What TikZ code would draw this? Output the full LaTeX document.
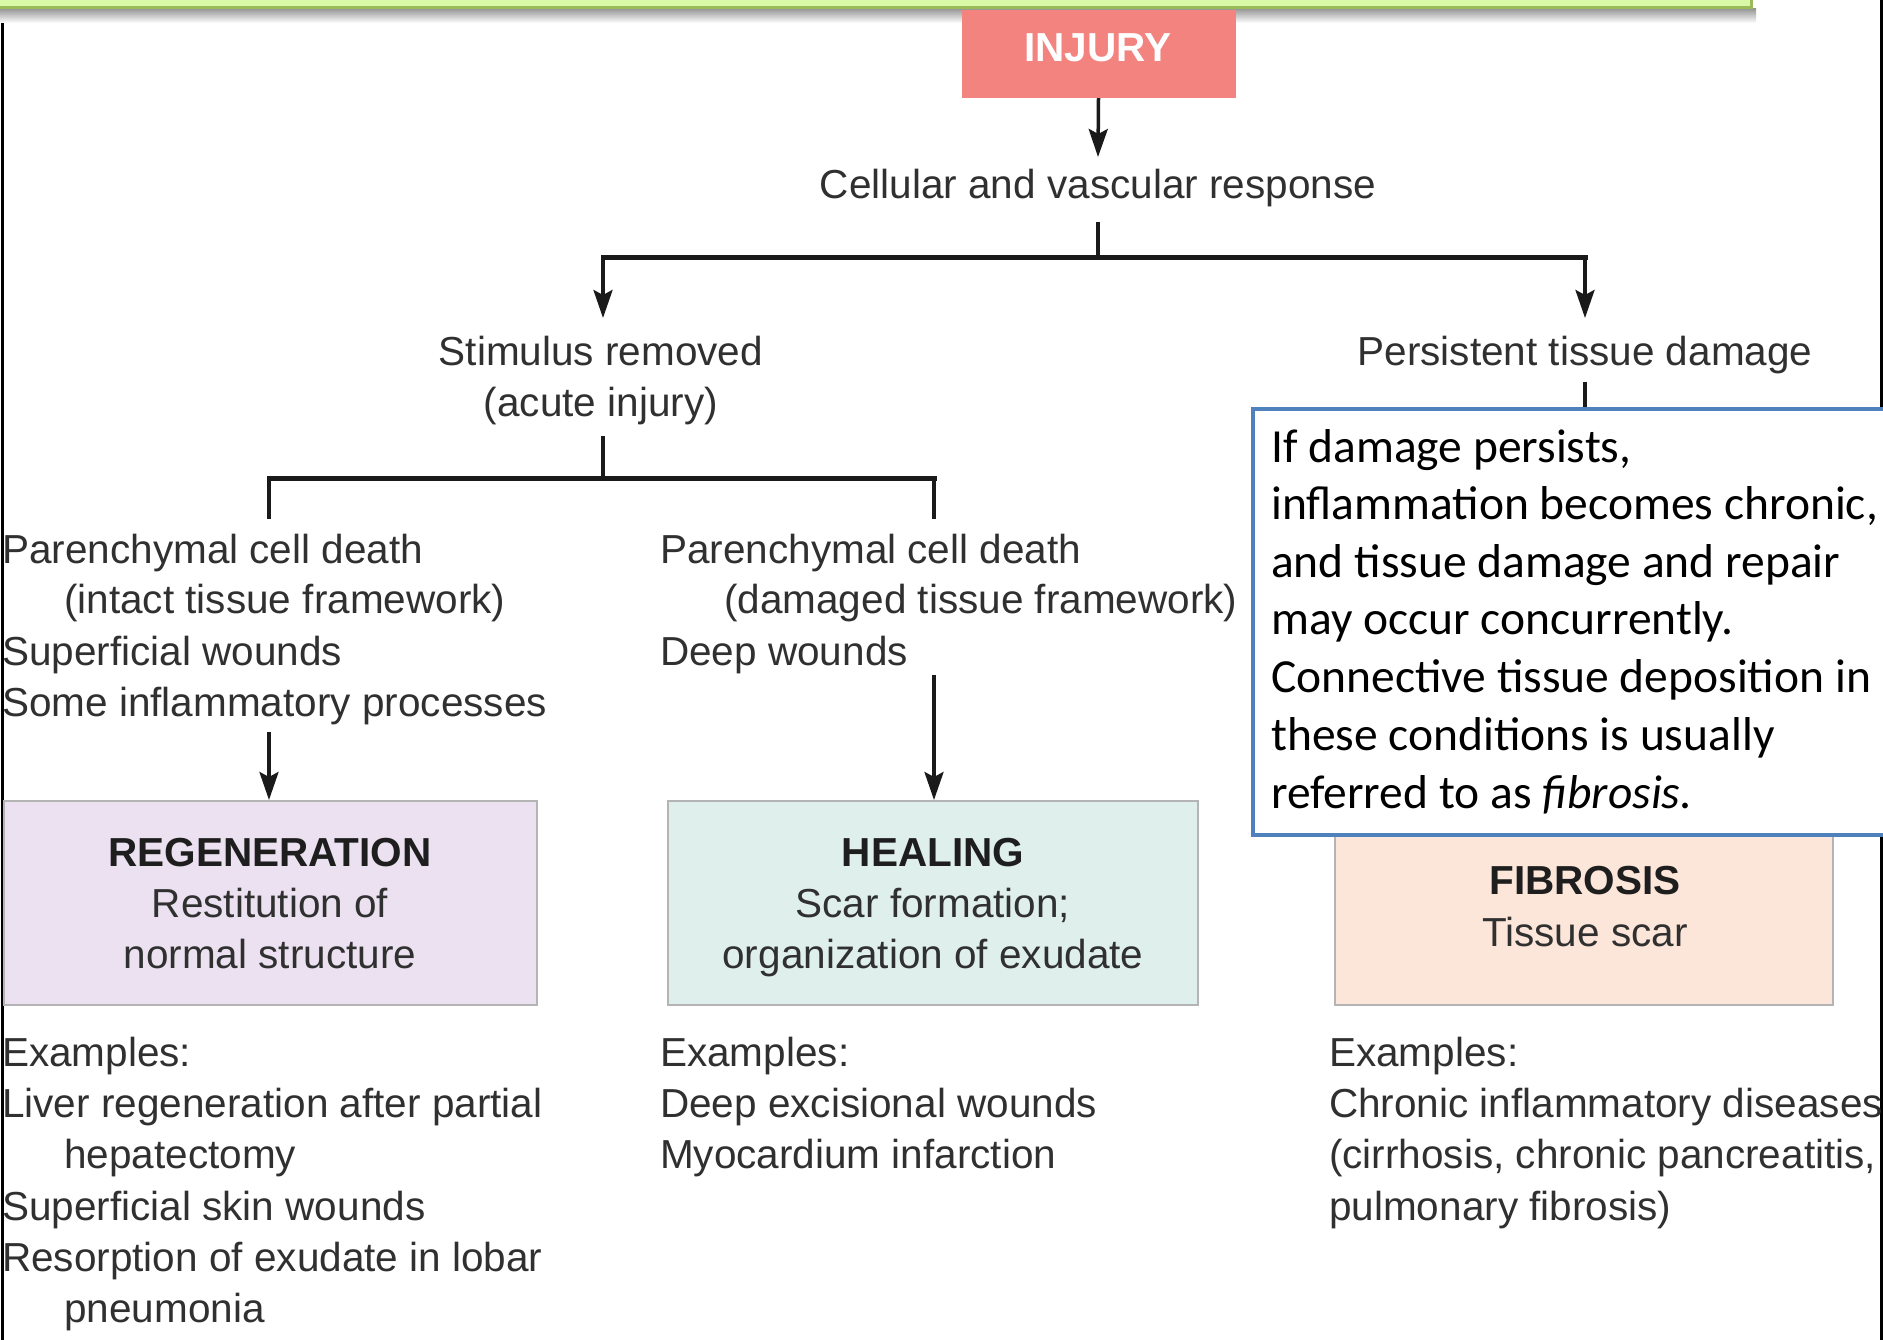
\documentclass[tikz,border=0pt]{standalone}
\usepackage{fontspec}
\setmainfont{Liberation Sans}
\newfontfamily\calibfont{Carlito}
\usetikzlibrary{arrows.meta}
\definecolor{txtgray}{HTML}{303030}
\definecolor{ttlblack}{HTML}{1E1E1E}
\definecolor{linecol}{HTML}{1A1A1A}
\definecolor{injuryfill}{HTML}{F3837F}
\definecolor{regenfill}{HTML}{EBE1F0}
\definecolor{healfill}{HTML}{DFF0EC}
\definecolor{fibfill}{HTML}{FCE5D9}
\definecolor{boxborder}{HTML}{B4B4B4}
\definecolor{notefill}{HTML}{FFFFFF}
\definecolor{noteborder}{HTML}{4F81BD}
\definecolor{bannerfill}{HTML}{D9F9A8}
\definecolor{bannerborder}{HTML}{9BBB59}
\tikzset{
  tl/.style={anchor=base west, inner sep=0pt, text=txtgray, font=\fontsize{40.5}{48}\selectfont},
  tc/.style={anchor=base, inner sep=0pt, text=txtgray, font=\fontsize{40.5}{48}\selectfont},
  ttl/.style={anchor=base, inner sep=0pt, text=ttlblack, font=\fontsize{40.5}{48}\selectfont\bfseries},
  nt/.style={anchor=base west, inner sep=0pt, text=black, font=\calibfont\fontsize{47.5}{57}\selectfont},
  resbox/.style={draw=boxborder, line width=2pt, minimum width=533pt, minimum height=204pt, inner sep=0pt},
  conn/.style={draw=linecol, line width=3.5pt},
  bar/.style={draw=linecol, line width=5pt, line cap=rect},
  arr/.style={conn, -{Stealth[length=28pt, width=19pt, inset=5pt]}},
}
\begin{document}
\begin{tikzpicture}[x=1pt,y=-1pt]
\useasboundingbox (0,0) rectangle (1883,1340);
\clip (0,0) rectangle (1883,1340);
\fill[white] (0,0) rectangle (1883,1340);
% frame lines
\draw[black, line width=3pt] (2,10) -- (2,1345);
\draw[black, line width=3pt] (1881.5,-5) -- (1881.5,1345);
% banner
\shade[top color=black!40, bottom color=white] (0,9) rectangle (1756,23);
\fill[bannerfill] (-10,-10) rectangle (1751,8);
\draw[bannerborder, line width=3pt] (-10,7.5) -- (1751,7.5) -- (1751,-10);
% injury
\node[fill=injuryfill, minimum width=274pt, minimum height=88pt, inner sep=0pt] (injury) at (1098.5,54) {};
\node[anchor=base, inner sep=0pt, text=white, font=\fontsize{40.5}{48}\selectfont\bfseries] (injurytxt) at (1098,62) {INJURY};
% level 1
\node[tc] (cell) at (1098,199) {Cellular and vascular response};
\coordinate (cellin) at (1098,157);
\draw[arr] (injury.south) -- (cellin);
\coordinate (cellout) at (1098,222);
\coordinate (split1) at (1098,258);
\coordinate (b1l) at (603,258);
\coordinate (b1r) at (1585,258);
\draw[conn] (cellout) -- (split1);
\draw[bar] (b1l) -- (b1r);
% level 2
\node[tc] (stim) at (601,366) {Stimulus removed};
\node[tc] (acute) at (601,416) {(acute injury)};
\node[tc] (pers) at (1585,366) {Persistent tissue damage};
\coordinate (stimin) at (603,318);
\coordinate (persin) at (1585,318);
\draw[arr] (b1l) -- (stimin);
\draw[arr] (b1r) -- (persin);
\coordinate (acuteout) at (603,436);
\coordinate (split2) at (603,478);
\coordinate (b2l) at (269,478);
\coordinate (b2r) at (934,478);
\draw[conn] (acuteout) -- (split2);
\draw[bar] (b2l) -- (b2r);
\coordinate (b2ld) at (269,519);
\coordinate (b2rd) at (934,519);
\draw[conn] (b2l) -- (b2ld);
\draw[conn] (b2r) -- (b2rd);
\coordinate (persout) at (1585,382);
\coordinate (persdown) at (1585,410);
\draw[conn] (persout) -- (persdown);
% left text block
\node[tl] (l1) at (2,563) {Parenchymal cell death};
\node[tl] (l2) at (64,613) {(intact tissue framework)};
\node[tl] (l3) at (2,665) {Superficial wounds};
\node[tl] (l4) at (2,716) {Some inflammatory processes};
% middle text block
\node[tl] (m1) at (660,563) {Parenchymal cell death};
\node[tl] (m2) at (724,613) {(damaged tissue framework)};
\node[tl] (m3) at (660,665) {Deep wounds};
% result boxes
\node[resbox, fill=regenfill] (regen) at (270.5,903) {};
\node[resbox, fill=healfill, minimum width=530pt] (heal) at (933,903) {};
\node[resbox, fill=fibfill, minimum width=498pt] (fib) at (1584,903) {};
\coordinate (lstart) at (269,732);
\coordinate (mstart) at (934,675);
\draw[arr] (lstart) -- (lstart |- regen.north);
\draw[arr] (mstart) -- (mstart |- heal.north);
\node[ttl] (rg1) at (270,866) {REGENERATION};
\node[tc] (rg2) at (270,917) {Restitution of};
\node[tc] (rg3) at (270,968) {normal structure};
\node[ttl] (hl1) at (933,866) {HEALING};
\node[tc] (hl2) at (933,917) {Scar formation;};
\node[tc] (hl3) at (933,968) {organization of exudate};
\node[ttl] (fb1) at (1585,894) {FIBROSIS};
\node[tc] (fb2) at (1585,946) {Tissue scar};
% examples
\node[tl] (e1) at (2,1066) {Examples:};
\node[tl] (e2) at (2,1117) {Liver regeneration after partial};
\node[tl] (e3) at (64,1168) {hepatectomy};
\node[tl] (e4) at (2,1220) {Superficial skin wounds};
\node[tl] (e5) at (2,1271) {Resorption of exudate in lobar};
\node[tl] (e6) at (64,1322) {pneumonia};
\node[tl] (f1) at (660,1066) {Examples:};
\node[tl] (f2) at (660,1117) {Deep excisional wounds};
\node[tl] (f3) at (660,1168) {Myocardium infarction};
\node[tl] (g1) at (1329,1066) {Examples:};
\node[tl] (g2) at (1329,1117) {Chronic inflammatory diseases};
\node[tl] (g3) at (1329,1168) {(cirrhosis, chronic pancreatitis,};
\node[tl] (g4) at (1329,1220) {pulmonary fibrosis)};
% note box
\node[draw=noteborder, fill=notefill, line width=4pt, minimum width=660pt, minimum height=426pt, anchor=north west, inner sep=0pt] (note) at (1251,407) {};
\node[nt] (n1) at (1271,462) {If damage persists,};
\node[nt] (n2) at (1271,519) {inflammation becomes chronic,};
\node[nt] (n3) at (1271,577) {and tissue damage and repair};
\node[nt] (n4) at (1271,634) {may occur concurrently.};
\node[nt] (n5) at (1271,692) {Connective tissue deposition in};
\node[nt] (n6) at (1271,750) {these conditions is usually};
\node[nt] (n7) at (1271,808) {referred to as \textit{fibrosis.}};
\end{tikzpicture}
\end{document}
